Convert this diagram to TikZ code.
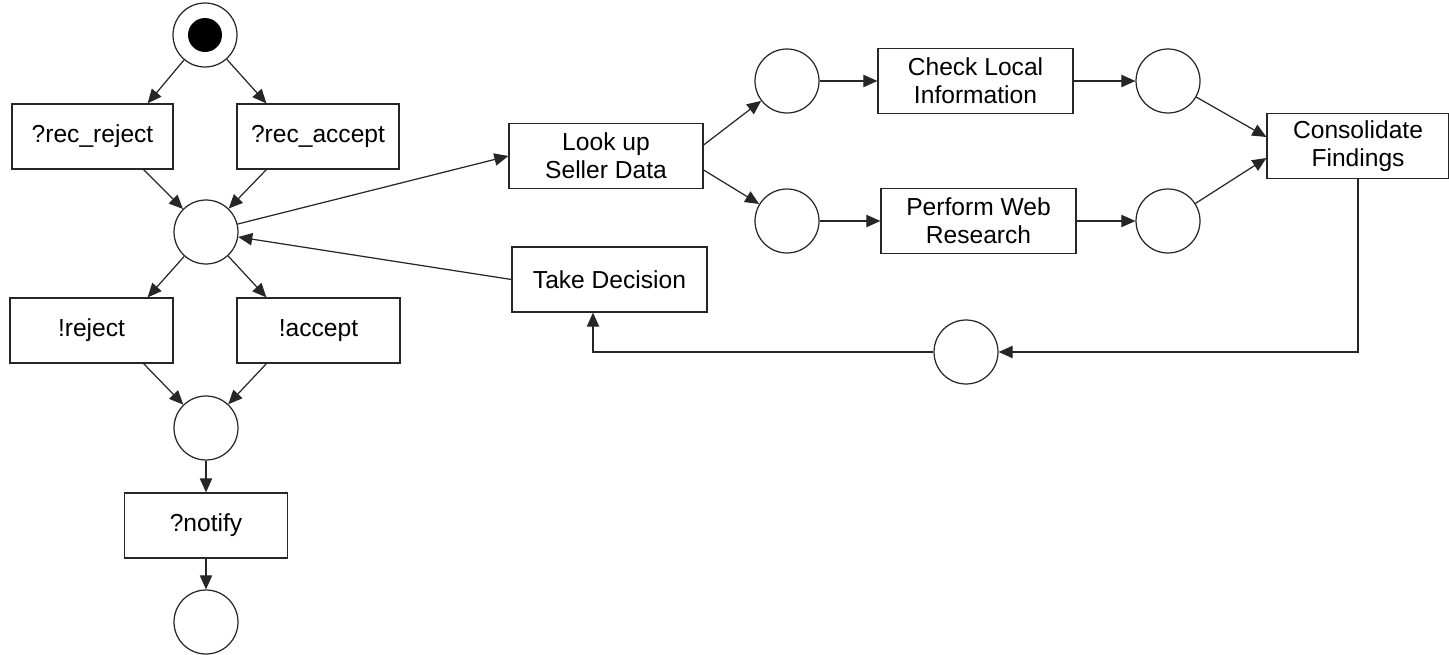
\documentclass[tikz,border=0pt]{standalone}
\usepackage{fontspec}
\setmainfont{Liberation Sans}
\usetikzlibrary{arrows.meta}

\begin{document}
\begin{tikzpicture}[x=0.02cm, y=-0.02cm, line width=0.7pt,
		place/.style={draw=black!85, circle, minimum size=1.28cm, inner sep=0pt},
		trans/.style={draw=black!85, rectangle, minimum height=1.3cm, inner sep=2pt, align=center, font=\fontsize{14}{16}\selectfont},
		arc/.style={draw=black!85, -{Triangle[length=8pt,width=7pt]}}]
			%%%%% START %%%%%
			
			\useasboundingbox (0, 0) rectangle (1449, 655);
			
			% left part
			\node[place] (start) at (205, 35) {};
			\fill[black] (start) circle (0.34cm);
			\node[trans, minimum width=3.22cm] (recrej) at (92.5, 136.5) {?rec\_reject};
			\node[trans, minimum width=3.24cm] (recacc) at (318, 136.5) {?rec\_accept};
			\node[place] (pmid) at (206, 232) {};
			\node[trans, minimum width=3.26cm] (rej) at (91.5, 330.5) {!reject};
			\node[trans, minimum width=3.26cm] (acc) at (318.5, 330.5) {!accept};
			\node[place] (pjoin) at (206, 428) {};
			\node[trans, minimum width=3.26cm] (notify) at (206, 525.5) {?notify};
			\node[place] (pend) at (206, 622) {};
			
			% right part
			\node[trans, minimum width=3.88cm] (lookup) at (606, 156) {Look up\\Seller Data};
			\node[trans, minimum width=3.9cm] (decide) at (609.5, 279.5) {Take Decision};
			\node[place] (pup) at (787, 81) {};
			\node[place] (plow) at (787, 221) {};
			\node[trans, minimum width=3.9cm] (local) at (975.5, 81) {Check Local\\Information};
			\node[trans, minimum width=3.9cm] (web) at (978.5, 221) {Perform Web\\Research};
			\node[place] (pup2) at (1168, 81) {};
			\node[place] (plow2) at (1168, 221) {};
			\node[trans, minimum width=3.64cm] (cons) at (1358, 146) {Consolidate\\Findings};
			\node[place] (pback) at (966, 352) {};
			
			% arcs left
			\draw[arc] (start) -- ([xshift=-0.52cm]recrej.north east);
			\draw[arc] (start) -- ([xshift=0.6cm]recacc.north west);
			\draw[arc] ([xshift=-0.6cm]recrej.south east) -- (pmid);
			\draw[arc] ([xshift=0.6cm]recacc.south west) -- (pmid);
			\draw[arc] (pmid) -- ([xshift=-0.52cm]rej.north east);
			\draw[arc] (pmid) -- ([xshift=0.6cm]acc.north west);
			\draw[arc] ([xshift=-0.6cm]rej.south east) -- (pjoin);
			\draw[arc] ([xshift=0.6cm]acc.south west) -- (pjoin);
			\draw[arc] (pjoin) -- (notify);
			\draw[arc] (notify) -- (pend);
			
			% arcs right
			\draw[arc] (pmid) -- (lookup.west);
			\draw[arc] (decide.west) -- (pmid);
			\draw[arc] ([yshift=0.22cm]lookup.east) -- (pup);
			\draw[arc] ([yshift=-0.28cm]lookup.east) -- (plow);
			\draw[arc] (pup) -- (local);
			\draw[arc] (plow) -- (web);
			\draw[arc] (local) -- (pup2);
			\draw[arc] (web) -- (plow2);
			\draw[arc] (pup2) -- ([yshift=0.18cm]cons.west);
			\draw[arc] (plow2) -- ([yshift=-0.24cm]cons.west);
			\draw[arc] (cons) |- (pback);
			\draw[arc] (pback) -| ([xshift=-0.33cm]decide.south);
			
			%%%%% END %%%%%
		\end{tikzpicture}
\end{document}
